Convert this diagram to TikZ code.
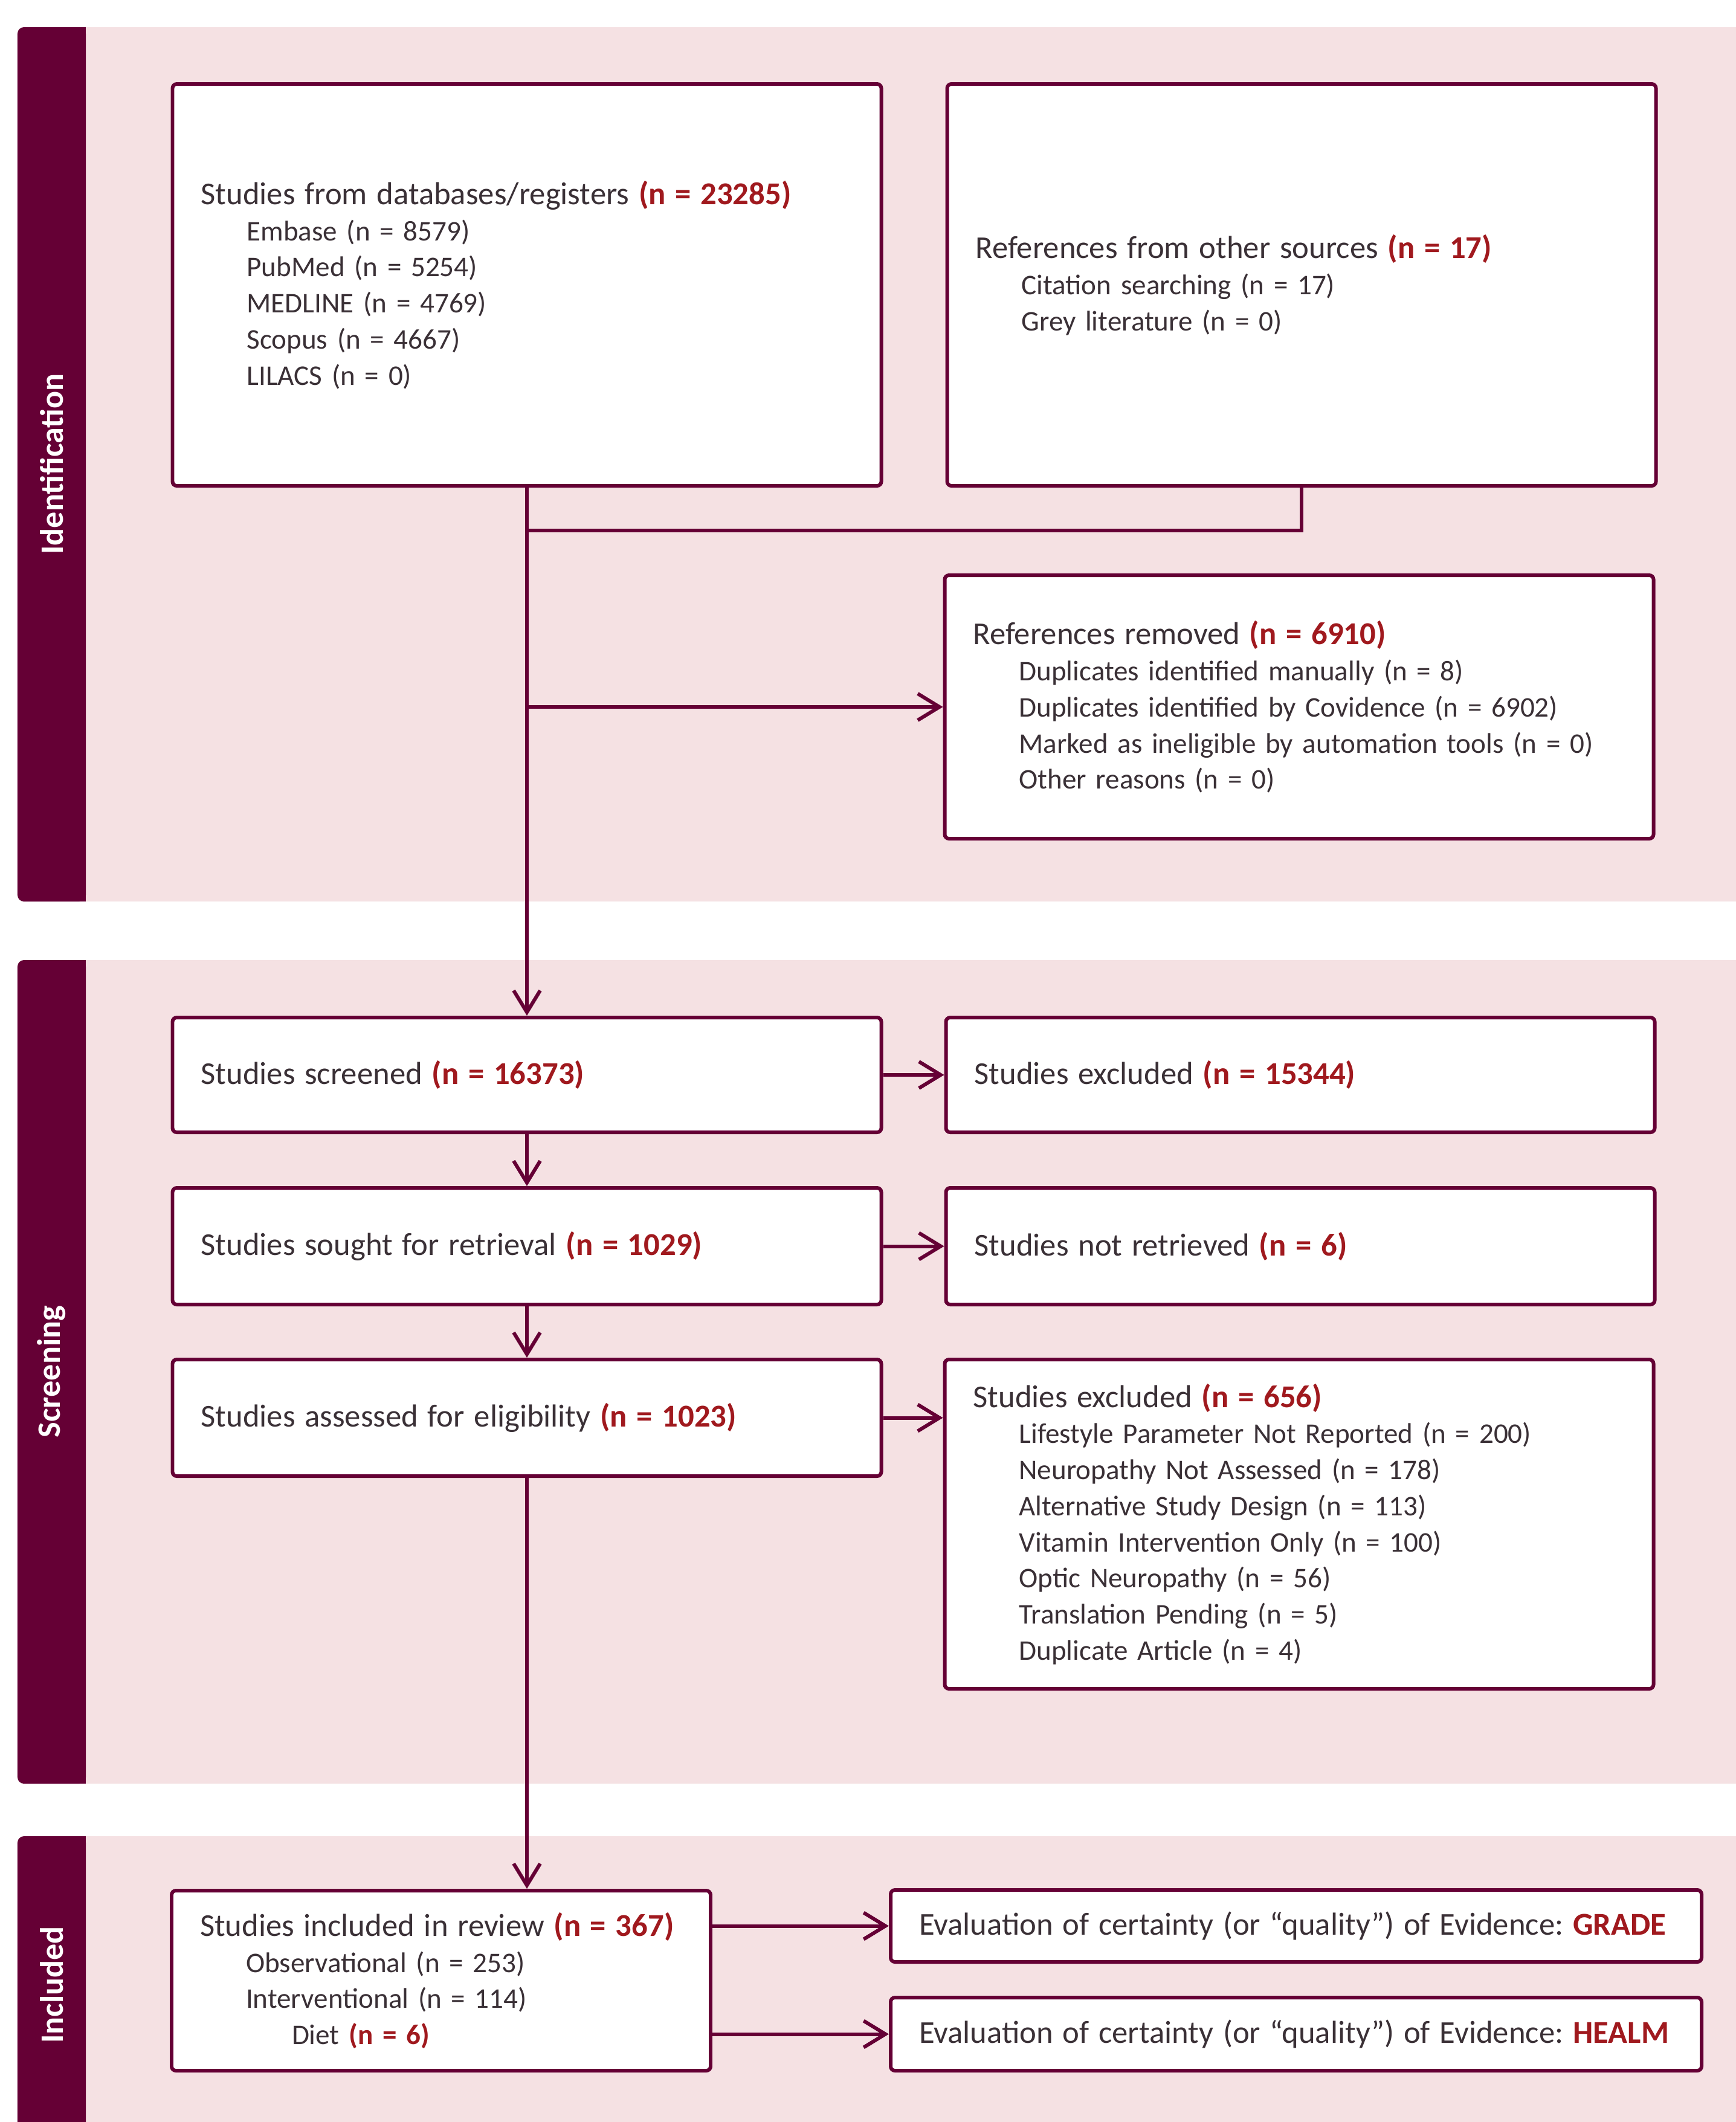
\documentclass[tikz,border=0pt]{standalone}
\usepackage{fontspec}
\setmainfont{Carlito}
\usepackage{xcolor}
\usetikzlibrary{arrows.meta}

\definecolor{bandpink}{HTML}{F5E1E3}
\definecolor{barcol}{HTML}{650035}
\definecolor{txtgrey}{HTML}{3A3036}
\definecolor{nred}{HTML}{A0191E}
\newcommand{\nval}[1]{\textcolor{nred}{\textbf{#1}}}
\newcommand{\hd}[1]{{\fontsize{15}{17}\selectfont #1}}
\newcommand{\ind}{\hspace*{0.76cm}}

\tikzset{
  prismabox/.style={draw=barcol, fill=white, line width=1.7pt, rounded corners=2pt, inner xsep=0.47cm, inner ysep=0pt, align=left, text=txtgrey, font=\fontsize{13.4}{17}\selectfont\frenchspacing},
  sidelabel/.style={rotate=90, text=white, font=\fontsize{15.4}{17}\selectfont\bfseries},
  flow/.style={draw=barcol, line width=1.7pt, -{Straight Barb[length=0.36cm,width=0.44cm]}},
  link/.style={draw=barcol, line width=1.7pt},
}

\begin{document}
\begin{tikzpicture}
\useasboundingbox[fill=white] (0,0) rectangle (28.73,-35.12);
\fill[bandpink] (1.42,-0.45) rectangle (28.73,-14.92);
\fill[bandpink] (1.42,-15.89) rectangle (28.73,-29.52);
\fill[bandpink] (1.42,-30.39) rectangle (28.73,-35.12);
\fill[barcol, rounded corners=3pt] (0.29,-0.45) rectangle (1.42,-14.92);
\fill[barcol, rounded corners=3pt] (0.29,-15.89) rectangle (1.42,-29.52);
\fill[barcol, rounded corners=3pt] (0.29,-30.39) rectangle (1.42,-35.6);
\fill[barcol] (0.9,-0.45) rectangle (1.42,-14.92);
\fill[barcol] (0.9,-15.89) rectangle (1.42,-29.52);
\fill[barcol] (0.9,-30.39) rectangle (1.42,-35.6);
\node[sidelabel] (idlabel) at (0.855,-7.68) {Identification};
\node[sidelabel] (scrlabel) at (0.855,-22.70) {Screening};
\node[sidelabel] (inclabel) at (0.855,-32.85) {Included};

\node[prismabox, text width=10.79cm, minimum height=6.65cm] (dbase) at (8.72,-4.715) {\hd{Studies from databases/registers \nval{(n = 23285)}}\\
\ind Embase (n = 8579)\\
\ind PubMed (n = 5254)\\
\ind MEDLINE (n = 4769)\\
\ind Scopus (n = 4667)\\
\ind LILACS (n = 0)};
\node[prismabox, text width=10.79cm, minimum height=6.65cm] (other) at (21.54,-4.715) {\hd{References from other sources \nval{(n = 17)}}\\
\ind Citation searching (n = 17)\\
\ind Grey literature (n = 0)};
\node[prismabox, text width=10.79cm, minimum height=4.36cm] (removed) at (21.50,-11.70) {\hd{References removed \nval{(n = 6910)}}\\
\ind Duplicates identified manually (n = 8)\\
\ind Duplicates identified by Covidence (n = 6902)\\
\ind Marked as ineligible by automation tools (n = 0)\\
\ind Other reasons (n = 0)};
\node[prismabox, text width=10.79cm, minimum height=1.90cm] (screened) at (8.72,-17.79) {\hd{Studies screened \nval{(n = 16373)}}};
\node[prismabox, text width=10.79cm, minimum height=1.90cm] (excl) at (21.52,-17.79) {\hd{Studies excluded \nval{(n = 15344)}}};
\node[prismabox, text width=10.79cm, minimum height=1.93cm] (sought) at (8.72,-20.625) {\hd{Studies sought for retrieval \nval{(n = 1029)}}};
\node[prismabox, text width=10.79cm, minimum height=1.93cm] (notret) at (21.52,-20.625) {\hd{Studies not retrieved \nval{(n = 6)}}};
\node[prismabox, text width=10.79cm, minimum height=1.93cm] (assessed) at (8.72,-23.465) {\hd{Studies assessed for eligibility \nval{(n = 1023)}}};
\node[prismabox, text width=10.79cm, minimum height=5.45cm] (exclfull) at (21.50,-25.225) {\hd{Studies excluded \nval{(n = 656)}}\\
\ind Lifestyle Parameter Not Reported (n = 200)\\
\ind Neuropathy Not Assessed (n = 178)\\
\ind Alternative Study Design (n = 113)\\
\ind Vitamin Intervention Only (n = 100)\\
\ind Optic Neuropathy (n = 56)\\
\ind Translation Pending (n = 5)\\
\ind Duplicate Article (n = 4)};
\node[prismabox, text width=7.98cm, minimum height=2.98cm] (included) at (7.30,-32.78) {\hd{Studies included in review \nval{(n = 367)}}\\
\ind Observational (n = 253)\\
\ind Interventional (n = 114)\\
\ind\ind Diet \nval{(n = 6)}};
\node[prismabox, text width=12.48cm, minimum height=1.19cm] (grade) at (21.45,-31.875) {\hd{Evaluation of certainty (or “quality”) of Evidence: \nval{GRADE}}};
\node[prismabox, text width=12.48cm, minimum height=1.21cm] (healm) at (21.45,-33.665) {\hd{Evaluation of certainty (or “quality”) of Evidence: \nval{HEALM}}};

\coordinate (merge) at (8.72,-8.78);
\draw[link] (other.south) |- (merge);
\draw[flow] (dbase.south) -- (screened.north);
\draw[flow] (dbase.south |- removed.west) -- (removed.west);
\draw[flow] (screened.east) -- (excl.west);
\draw[flow] (screened.south) -- (sought.north);
\draw[flow] (sought.east) -- (notret.west);
\draw[flow] (sought.south) -- (assessed.north);
\draw[flow] (assessed.east) -- (exclfull.west |- assessed.east);
\draw[flow] (assessed.south) -- (assessed.south |- included.north);
\draw[flow] (included.east |- grade.west) -- (grade.west);
\draw[flow] (included.east |- healm.west) -- (healm.west);
\end{tikzpicture}
\end{document}
